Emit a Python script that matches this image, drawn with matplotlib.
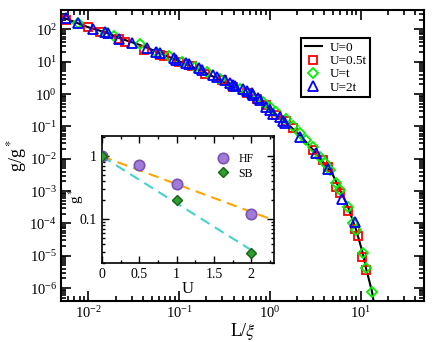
import numpy as np
import matplotlib
matplotlib.use("Agg")
import matplotlib.pyplot as plt
from matplotlib.ticker import LogLocator, NullFormatter, MultipleLocator

plt.rcParams['font.family'] = ['Liberation Serif', 'DejaVu Serif']
plt.rcParams['mathtext.fontset'] = 'stix'

# scaling curve U=0
curve_x = [0.005, 0.0056, 0.0098, 0.0154, 0.0225, 0.0372, 0.0569, 0.1026, 0.17, 0.283,
           0.395, 0.603, 0.918, 1.40, 2.14, 3.26, 4.97, 7.26, 8.96, 10.6, 11.5, 13.4, 14.0]
curve_y = [240, 218, 118, 81, 52.5, 32.7, 20.4, 10, 5.5, 2.71,
           1.61, 0.83, 0.405, 0.157, 0.054, 0.0146, 3.1e-3, 3.3e-4, 6.2e-5, 1.18e-5, 4.06e-6, 7.7e-7, 3.5e-7]

# U=0.5t
red_x = [0.0057, 0.0098, 0.0135, 0.0215, 0.0255, 0.0406, 0.0618, 0.0673, 0.0984, 0.138,
         0.193, 0.294, 0.395, 0.555, 0.713, 0.918, 1.18, 1.52, 1.80, 2.99,
         3.85, 4.38, 5.4, 5.88, 7.26, 8.74, 9.35, 10.4, 11.5]
red_y = [194, 115, 84.7, 49, 41.6, 23, 16.1, 15, 10, 7.35,
         4.16, 2.71, 1.61, 1.05, 0.68, 0.457, 0.224, 0.15, 0.0867, 0.0185,
         0.0091, 0.00566, 1.36e-3, 8.9e-4, 2.47e-4, 6.5e-5, 4.07e-5, 9.3e-6, 3.6e-6]

# U=t
green_x = [0.0076, 0.0158, 0.019, 0.0372, 0.0569, 0.0764, 0.107, 0.15, 0.201, 0.283,
           0.395, 0.468, 0.603, 0.845, 1.0, 1.18, 1.52, 1.80, 2.14, 2.53,
           2.99, 3.54, 4.02, 4.56, 5.4, 5.88, 7.26, 8.24, 8.96, 10.6, 11.5, 13.4]
green_y = [161, 75, 62, 34.4, 18.1, 15, 10, 6.68, 4.91, 2.85,
           1.77, 1.39, 0.93, 0.58, 0.405, 0.284, 0.164, 0.102, 0.0608, 0.0378,
           0.0235, 0.0115, 0.0072, 0.0045, 1.73e-3, 1.07e-3, 3.3e-4, 1e-4, 6.2e-5, 1.18e-5, 4.06e-6, 7.7e-7]

# U=2t
blue_x = [0.0057, 0.0076, 0.0112, 0.0154, 0.0163, 0.0215, 0.0302, 0.0442, 0.0555, 0.0608,
          0.0867, 0.0918, 0.118, 0.127, 0.166, 0.177, 0.238, 0.259, 0.32, 0.363,
          0.395, 0.412, 0.509, 0.555, 0.63, 0.656, 0.745, 0.776, 0.918, 1.0,
          1.09, 1.29, 1.40, 1.46, 2.14, 3.26, 4.38, 6.29, 8.6]
blue_y = [218, 161, 100, 81, 75, 52, 38.7, 25.9, 20.4, 19.0,
          12.7, 11.2, 9.3, 8.47, 6.2, 5.5, 3.87, 3.44, 2.71, 2.24,
          1.9, 1.77, 1.39, 1.27, 1.05, 0.93, 0.735, 0.65, 0.405, 0.32,
          0.25, 0.19, 0.15, 0.124, 0.048, 0.0153, 0.0047, 5.5e-4, 1.13e-4]

# inset
hf_u = [0, 0.5, 1, 2]
hf_g = [1.0, 0.735, 0.369, 0.122]
sb_u = [0, 1, 2]
sb_g = [1.0, 0.2, 0.029]
fit_hf_u = [0, 2.3]
fit_hf_g = [1.0, 0.096]
fit_sb_u = [0, 2.0]
fit_sb_g = [1.0, 0.032]
inset_xticks = [0, 0.5, 1, 1.5, 2]
inset_xlabels = ['0', '0.5', '1', '1.5', '2']

fig = plt.figure(figsize=(4.43, 3.42), dpi=100)
ax = fig.add_axes([0.138, 0.12, 0.819, 0.851])

ax.plot(curve_x, curve_y, color='black', lw=1.5, label='U=0', zorder=1)
ms = 6.3
ax.plot(red_x, red_y, 's', mfc='none', mec='red', mew=1.3, ms=ms, label='U=0.5t', zorder=2)
ax.plot(green_x, green_y, 'D', mfc='none', mec='#00ee00', mew=1.3, ms=ms - 0.9, label='U=t', zorder=3)
ax.plot(blue_x, blue_y, '^', mfc='none', mec='blue', mew=1.3, ms=ms + 0.6, label='U=2t', zorder=4)

ax.set_xscale('log')
ax.set_yscale('log')
ax.set_xlim(0.005, 50)
ax.set_ylim(4e-7, 400)
ax.xaxis.set_major_locator(LogLocator(base=10, numticks=20))
ax.xaxis.set_minor_locator(LogLocator(base=10, subs=np.arange(2, 10), numticks=20))
ax.yaxis.set_major_locator(LogLocator(base=10, numticks=20))
ax.yaxis.set_minor_locator(LogLocator(base=10, subs=np.arange(2, 10), numticks=20))
ax.xaxis.set_minor_formatter(NullFormatter())
ax.yaxis.set_minor_formatter(NullFormatter())
ax.tick_params(which='both', direction='in', top=True, right=True, labelsize=10.5, width=1.2)
ax.tick_params(which='major', length=7, pad=3)
ax.tick_params(which='minor', length=3.5)
for s in ax.spines.values():
    s.set_linewidth(1.5)
ax.set_xlabel(r'L/$\xi$', fontsize=13, labelpad=0)
ax.set_ylabel(r'g/g$^*$', fontsize=13, labelpad=0)

leg = ax.legend(loc='upper right', bbox_to_anchor=(0.87, 0.925), fontsize=9.5,
                fancybox=False, edgecolor='black', framealpha=1,
                handlelength=1.3, handletextpad=0.6, borderpad=0.25, labelspacing=0.08)
leg.get_frame().set_linewidth(1.5)

ins = fig.add_axes([0.230, 0.231, 0.388, 0.371])
ins.plot(fit_hf_u, fit_hf_g, '--', color='orange', lw=1.5, dashes=(5, 3))
ins.plot(fit_sb_u, fit_sb_g, '--', color='#48d1cc', lw=1.5, dashes=(5, 3))
ins.plot(hf_u, hf_g, 'o', ms=7.5, mfc='#a07cd8', mec='#7b52b5', mew=1.2, label='HF', zorder=5)
ins.plot(sb_u, sb_g, 'D', ms=5.5, mfc='#2e9e2e', mec='#146414', mew=1.0, label='SB', zorder=6)
ins.set_yscale('log')
ins.set_xlim(0, 2.3)
ins.set_ylim(0.02, 2.1)
ins.set_xticks(inset_xticks)
ins.set_xticklabels(inset_xlabels)
ins.xaxis.set_minor_locator(MultipleLocator(0.25))
ins.set_yticks([0.1, 1])
ins.set_yticklabels(['0.1', '1'])
ins.yaxis.set_minor_locator(LogLocator(base=10, subs=np.arange(2, 10), numticks=20))
ins.yaxis.set_minor_formatter(NullFormatter())
ins.tick_params(which='both', direction='in', top=True, right=True, labelsize=10, width=1.0)
ins.tick_params(which='major', length=5)
ins.tick_params(which='minor', length=2.5)
for s in ins.spines.values():
    s.set_linewidth(1.2)
ins.set_xlabel('U', fontsize=12, labelpad=0)
ins.set_ylabel(r'g$^*$', fontsize=11)
ins.yaxis.set_label_coords(-0.095, 0.53)
ins.legend(loc='upper right', bbox_to_anchor=(0.93, 0.93), frameon=False, fontsize=8.5,
           handletextpad=0.3, labelspacing=0.2, borderpad=0.2)

fig.savefig('out.png', dpi=100)
